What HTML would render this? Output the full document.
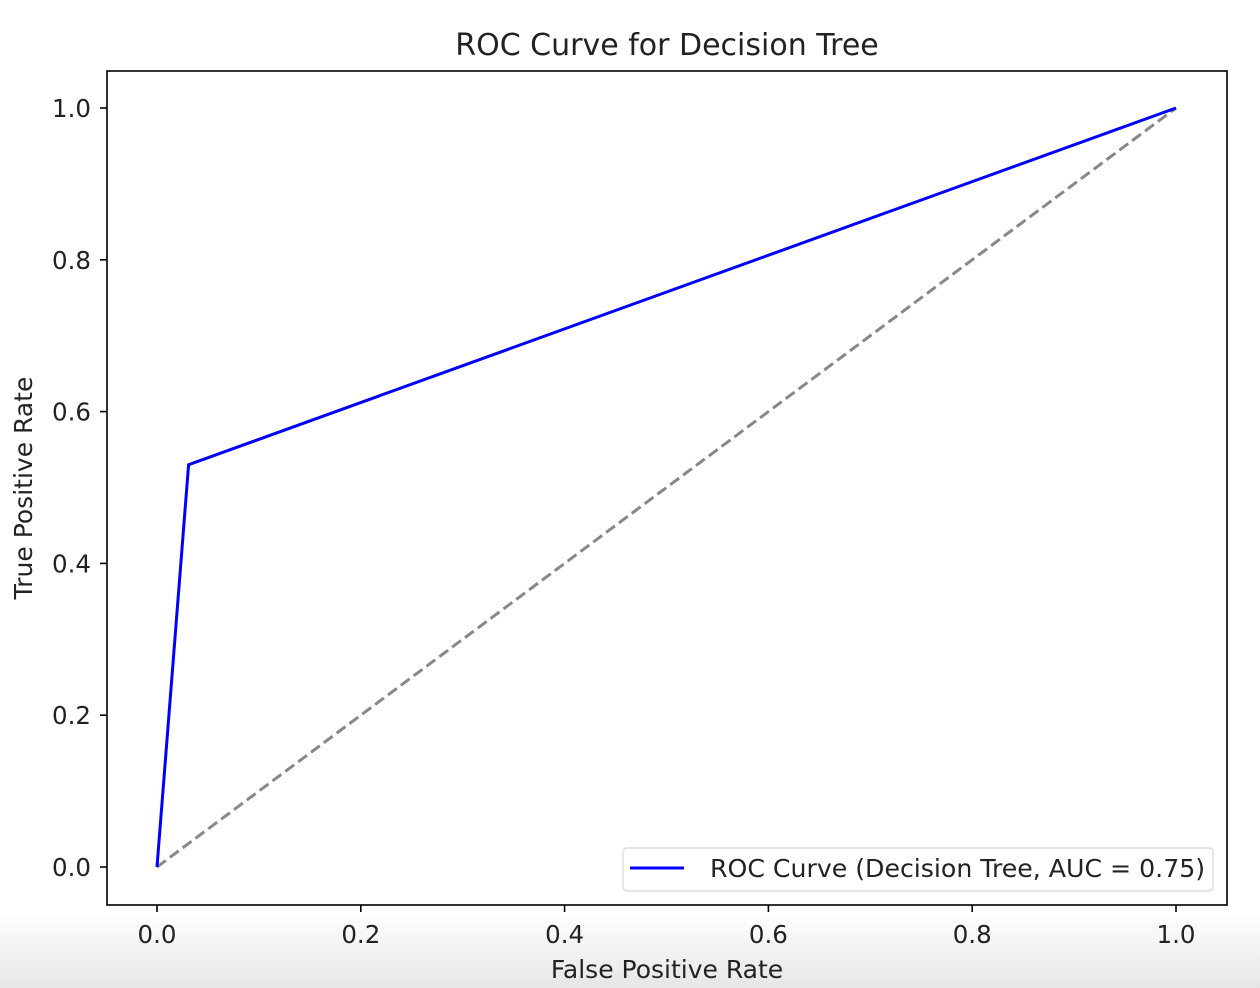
<!DOCTYPE html>
<html><head><meta charset="utf-8"><style>
body{margin:0;background:#fff;width:1260px;height:988px;overflow:hidden;position:relative;font-family:"DejaVu Sans","Liberation Sans",sans-serif}
#shade{position:absolute;left:0;top:912px;width:1260px;height:76px;background:linear-gradient(#fff,#e6e6e6)}
svg{position:absolute;left:0;top:0}
</style></head><body>
<div id="shade"></div>
<svg id="chart" width="1260" height="988"></svg>
<script>
const rocFpr=[0,0.031,1];
const rocTpr=[0,0.53,1];
const diagX=[0,1];
const diagY=[0,1];
const xTicks=[0,0.2,0.4,0.6,0.8,1.0];
const yTicks=[0,0.2,0.4,0.6,0.8,1.0];
const NS='http://www.w3.org/2000/svg';
const svg=document.getElementById('chart');
const X=v=>157+v*1019, Y=v=>867-v*759;
function mk(t,a,p){const e=document.createElementNS(NS,t);for(const k in a)e.setAttribute(k,a[k]);(p||svg).appendChild(e);return e;}
let e;
e=mk('rect',{x:107,y:71,width:1120,height:834,fill:'#fff',stroke:'#000','stroke-width':1.6});


e=mk('polyline',{points:diagX.map((v,i)=>X(v)+','+Y(diagY[i])).join(' '),fill:'none',stroke:'#888','stroke-width':3,'stroke-dasharray':'11,5'});


e=mk('polyline',{points:rocFpr.map((v,i)=>X(v)+','+Y(rocTpr[i])).join(' '),fill:'none',stroke:'#0000ff','stroke-width':3});


xTicks.forEach(t=>{
 e=mk('line',{x1:X(t),x2:X(t),y1:905,y2:912,stroke:'#000','stroke-width':1.6});
 
 
 e=mk('text',{x:X(t),y:943,'text-anchor':'middle','font-size':24.5,fill:'#222'});e.textContent=t.toFixed(1);
 
 
});
yTicks.forEach(t=>{
 e=mk('line',{x1:100,x2:107,y1:Y(t),y2:Y(t),stroke:'#000','stroke-width':1.6});
 
 
 e=mk('text',{x:91,y:Y(t)+9,'text-anchor':'end','font-size':24.5,fill:'#222'});e.textContent=t.toFixed(1);
 
 
});
e=mk('text',{x:667,y:55,'text-anchor':'middle','font-size':30,fill:'#222'});e.textContent='ROC Curve for Decision Tree';


e=mk('text',{x:667,y:978,'text-anchor':'middle','font-size':25,fill:'#222'});e.textContent='False Positive Rate';


e=mk('text',{x:0,y:0,'text-anchor':'middle','font-size':25,fill:'#222',transform:'translate(32,488) rotate(-90)'});e.textContent='True Positive Rate';


const g=mk('g',{});


mk('rect',{x:623,y:848,width:590,height:43,rx:4,fill:'#fff',stroke:'#ddd','stroke-width':1.5},g);
e=mk('line',{x1:630,x2:684,y1:868,y2:868,stroke:'#0000ff','stroke-width':3},g);


e=mk('text',{x:710,y:877,'font-size':25.2,fill:'#222'},g);e.textContent='ROC Curve (Decision Tree, AUC = 0.75)';


</script>
</body></html>
